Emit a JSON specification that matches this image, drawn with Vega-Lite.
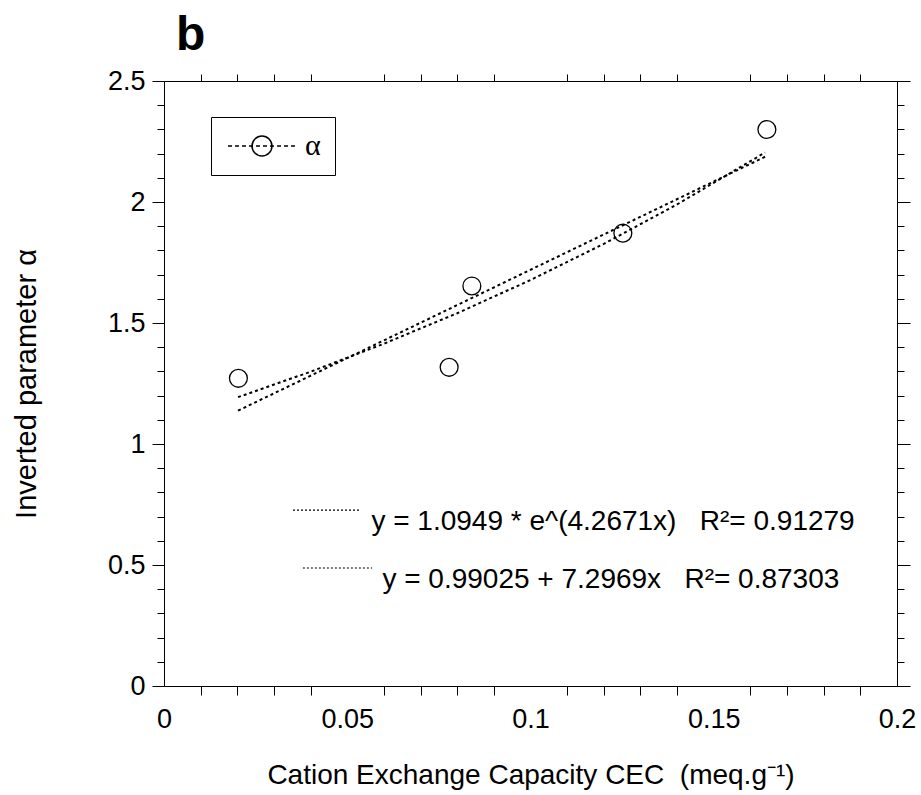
{
  "$schema": "https://vega.github.io/schema/vega-lite/v6.json",
  "width": 733,
  "height": 605,
  "autosize": {"type": "none"},
  "padding": {"left": 164, "top": 81, "right": 24, "bottom": 109},
  "background": "white",
  "title": {"text": "b", "anchor": "start", "frame": "group", "dx": 12, "offset": -31, "baseline": "alphabetic", "fontSize": 48, "fontWeight": "bold", "font": "Liberation Sans", "color": "black"},
  "config": {
    "view": {"stroke": "black", "strokeWidth": 1},
    "axis": {"grid": false, "domainColor": "black", "tickColor": "black", "labelColor": "black", "titleColor": "black", "labelFont": "Liberation Sans", "titleFont": "Liberation Sans", "labelFontSize": 27, "titleFontSize": 28, "titleFontWeight": "normal", "labelOverlap": false, "labelFlush": false, "domainWidth": 1, "tickWidth": 1}
  },
  "datasets": {
    "fits": [
      {"fit": "exp", "x": 0.0202, "y": 1.1935},
      {"fit": "exp", "x": 0.04, "y": 1.2987},
      {"fit": "exp", "x": 0.06, "y": 1.4144},
      {"fit": "exp", "x": 0.08, "y": 1.5404},
      {"fit": "exp", "x": 0.10, "y": 1.6776},
      {"fit": "exp", "x": 0.12, "y": 1.8271},
      {"fit": "exp", "x": 0.14, "y": 1.9899},
      {"fit": "exp", "x": 0.164, "y": 2.2045},
      {"fit": "lin", "x": 0.0202, "y": 1.1377},
      {"fit": "lin", "x": 0.164, "y": 2.1869}
    ],
    "points": [
      {"series": "α", "x": 0.0203, "y": 1.2715},
      {"series": "α", "x": 0.0778, "y": 1.317},
      {"series": "α", "x": 0.0840, "y": 1.653},
      {"series": "α", "x": 0.1252, "y": 1.871},
      {"series": "α", "x": 0.1645, "y": 2.2996}
    ],
    "eqlines": [
      {"xa": 0.0352, "xb": 0.0535, "y": 0.727},
      {"xa": 0.0379, "xb": 0.0568, "y": 0.4876}
    ],
    "eqtext": [
      {"x": 0.0566, "y": 0.6446, "label": "y = 1.0949 * e^(4.2671x)\u00a0\u00a0\u00a0R²= 0.91279"},
      {"x": 0.0596, "y": 0.405, "label": "y = 0.99025 + 7.2969x\u00a0\u00a0\u00a0R²= 0.87303"}
    ]
  },
  "layer": [
    {
      "data": {"name": "fits"},
      "mark": {"type": "line", "color": "black", "strokeDash": [3, 3], "strokeWidth": 2},
      "encoding": {
        "detail": {"field": "fit", "type": "nominal"},
        "x": {
          "field": "x", "type": "quantitative",
          "scale": {"domain": [0, 0.2], "nice": false, "zero": false},
          "axis": {
            "orient": "bottom",
            "values": [0,0.01,0.02,0.03,0.04,0.05,0.06,0.07,0.08,0.09,0.1,0.11,0.12,0.13,0.14,0.15,0.16,0.17,0.18,0.19,0.2],
            "format": "~g",
            "labelExpr": "abs(datum.value*20-round(datum.value*20))<1e-6 ? datum.label : ''",
            "tickSize": 9,
            "tickOpacity": {"condition": {"test": "abs(datum.value*20-round(datum.value*20))<1e-6", "value": 0}, "value": 1},
            "labelPadding": 11,
            "title": "Cation Exchange Capacity CEC\u00a0\u00a0(meq.g⁻¹)",
            "titleY": 97,
            "titleBaseline": "alphabetic"
          }
        },
        "y": {
          "field": "y", "type": "quantitative",
          "scale": {"domain": [0, 2.5], "nice": false, "zero": false},
          "axis": {
            "orient": "left",
            "values": [0,0.1,0.2,0.3,0.4,0.5,0.6,0.7,0.8,0.9,1,1.1,1.2,1.3,1.4,1.5,1.6,1.7,1.8,1.9,2,2.1,2.2,2.3,2.4,2.5],
            "format": "~g",
            "labelExpr": "abs(datum.value*2-round(datum.value*2))<1e-6 ? datum.label : ''",
            "tickSize": {"condition": {"test": "abs(datum.value*2-round(datum.value*2))<1e-6", "value": 12}, "value": 7},
            "labelPadding": 7,
            "title": "Inverted parameter α",
            "titleFontSize": 29,
            "titleX": -129,
            "titleBaseline": "alphabetic"
          }
        }
      }
    },
    {
      "data": {"name": "points"},
      "mark": {"type": "point", "filled": false, "size": 320, "strokeWidth": 1.3, "opacity": 1},
      "encoding": {
        "x": {
          "field": "x", "type": "quantitative",
          "axis": {
            "orient": "top",
            "values": [0,0.01,0.02,0.03,0.04,0.05,0.06,0.07,0.08,0.09,0.1,0.11,0.12,0.13,0.14,0.15,0.16,0.17,0.18,0.19,0.2],
            "labels": false,
            "tickSize": 7,
            "tickOpacity": {"condition": {"test": "abs(datum.value*20-round(datum.value*20))<1e-6", "value": 0}, "value": 1},
            "title": null
          }
        },
        "y": {
          "field": "y", "type": "quantitative",
          "axis": {
            "orient": "right",
            "values": [0,0.1,0.2,0.3,0.4,0.5,0.6,0.7,0.8,0.9,1,1.1,1.2,1.3,1.4,1.5,1.6,1.7,1.8,1.9,2,2.1,2.2,2.3,2.4,2.5],
            "labels": false,
            "tickSize": {"condition": {"test": "abs(datum.value*2-round(datum.value*2))<1e-6", "value": 13}, "value": 7},
            "title": null
          }
        },
        "color": {
          "field": "series", "type": "nominal",
          "scale": {"range": ["black"]},
          "legend": {
            "orient": "none", "legendX": 47, "legendY": 36,
            "title": null,
            "strokeColor": "black", "fillColor": "white",
            "padding": 14,
            "symbolType": "M-3.4,0L-3,0M-2.7,0L-2.3,0M-2,0L-1.6,0M-1.3,0L-0.9,0M-0.6,0L-0.2,0M0.1,0L0.5,0M0.8,0L1.2,0M1.5,0L1.9,0M2.2,0L2.6,0M2.9,0L3.3,0M-1,0A1,1,0,1,0,1,0A1,1,0,1,0,-1,0Z",
            "symbolSize": 400,
            "symbolStrokeWidth": 1.5,
            "symbolStrokeColor": "black",
            "symbolFillColor": "transparent",
            "symbolOffset": 22,
            "labelOffset": 28,
            "labelFont": "Liberation Serif",
            "labelFontSize": 30,
            "labelColor": "black"
          }
        }
      }
    },
    {
      "data": {"name": "eqlines"},
      "mark": {"type": "rule", "color": "black", "strokeDash": [2, 2], "strokeWidth": 1.2},
      "encoding": {
        "x": {"field": "xa", "type": "quantitative", "axis": null},
        "x2": {"field": "xb"},
        "y": {"field": "y", "type": "quantitative", "axis": null}
      }
    },
    {
      "data": {"name": "eqtext"},
      "mark": {"type": "text", "align": "left", "baseline": "alphabetic", "font": "Liberation Sans", "fontSize": 28, "color": "black"},
      "encoding": {
        "x": {"field": "x", "type": "quantitative", "axis": null},
        "y": {"field": "y", "type": "quantitative", "axis": null},
        "text": {"field": "label"}
      }
    }
  ]
}
